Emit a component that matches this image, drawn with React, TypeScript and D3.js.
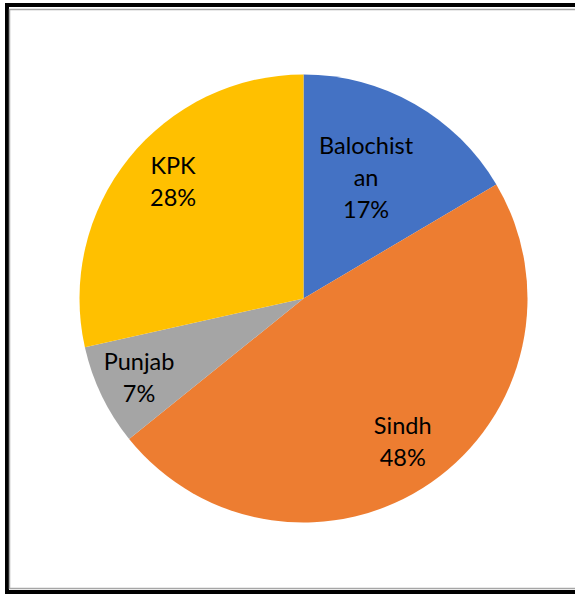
import React from "react";
import * as d3 from "d3";

const categories = ["Balochistan", "Sindh", "Punjab", "KPK"];
const values = [16.5, 47.7, 7.3, 28.5];
const labelLines = [["Balochist", "an", "17%"], ["Sindh", "48%"], ["Punjab", "7%"], ["KPK", "28%"]];
const colors = ["#4472C4", "#ED7D31", "#A5A5A5", "#FFC000"];
const labelRadius = [0.607, 0.777, 0.815, 0.78];
const labelAngleShift = [-2.3, 0, 0, 3];

export default function App() {
  const W = 575, H = 595;
  const cx = 303.5, cy = 298.5, r = 224;
  const pie = d3.pie<number>().sort(null).value((d) => d).startAngle(0).endAngle(2 * Math.PI);
  const arcs = pie(values);
  const arc = d3.arc<d3.PieArcDatum<number>>().innerRadius(0).outerRadius(r);
  const lineH = 32;
  return (
    <svg width={W} height={H} style={{ position: "absolute", left: 0, top: 0 }}>
      <rect x={0} y={0} width={W} height={H} fill="#fff" />
      <rect x={7} y={5} width={W + 20} height={587} fill="none" stroke="#000" strokeWidth={4} />
      <rect x={9.5} y={9.5} width={W + 20} height={579} fill="none" stroke="#A6A6A6" strokeWidth={1.5} />
      <g transform={`translate(${cx},${cy})`}>
        {arcs.map((a, i) => (
          <path key={categories[i]} d={arc(a) || ""} fill={colors[i]} />
        ))}
        {arcs.map((a, i) => {
          const lr = r * labelRadius[i];
          const shift = (labelAngleShift[i] * Math.PI) / 180;
          const la = d3.arc<d3.PieArcDatum<number>>().innerRadius(lr).outerRadius(lr);
          const [x, y] = la.centroid({ ...a, startAngle: a.startAngle + shift, endAngle: a.endAngle + shift });
          const lines = labelLines[i];
          const y0 = y - ((lines.length - 1) * lineH) / 2 + 8;
          return (
            <text key={"t" + i} x={x} y={y0} textAnchor="middle" fontFamily="Lato, 'Open Sans', sans-serif" fontSize={23.5} fill="#000">
              {lines.map((l, j) => (
                <tspan key={j} x={x} y={y0 + j * lineH}>{l}</tspan>
              ))}
            </text>
          );
        })}
      </g>
    </svg>
  );
}
